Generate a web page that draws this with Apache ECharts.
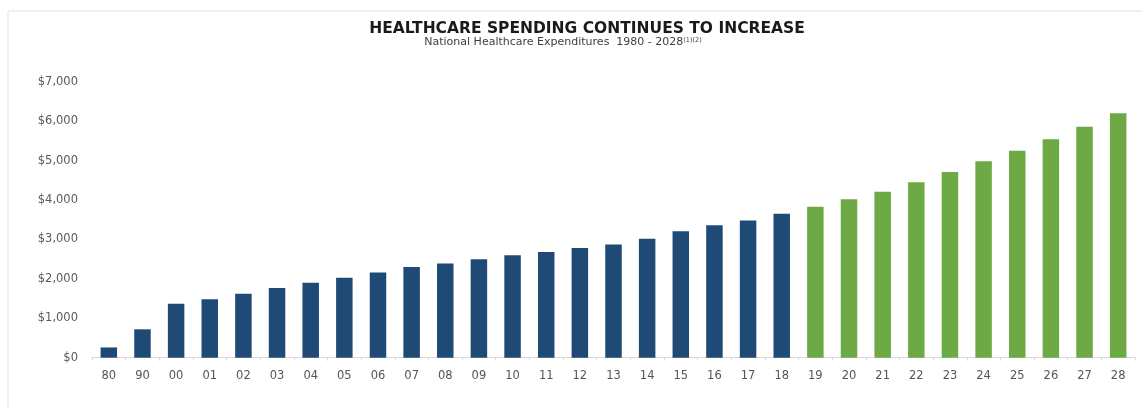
<!DOCTYPE html>
<html>
<head>
<meta charset="utf-8">
<script src="https://cdn.jsdelivr.net/npm/echarts@6/dist/echarts.min.js"></script>
<style>
html,body{margin:0;padding:0;background:#fff;}
#chart{width:1142px;height:408px;}
</style>
</head>
<body>
<div id="chart"></div>
<script>
const categories = ['80','90','00','01','02','03','04','05','06','07','08','09','10','11','12','13','14','15','16','17','18','19','20','21','22','23','24','25','26','27','28'];
const actualValues = [260,720,1370,1480,1620,1770,1900,2030,2160,2300,2390,2500,2600,2680,2780,2870,3020,3210,3360,3480,3650];
const projectedValues = [3830,4020,4210,4450,4710,4980,5250,5540,5860,6200];
const yTicks = [0,1000,2000,3000,4000,5000,6000,7000];

const navy = '#1F4A75';
const green = '#6DAA45';

const barData = actualValues.map(v => ({value: v, itemStyle: {color: navy}}))
  .concat(projectedValues.map(v => ({value: v, itemStyle: {color: green}})));

const chart = echarts.init(document.getElementById('chart'), null, {renderer: 'canvas'});
chart.setOption({
  animation: false,
  backgroundColor: '#fff',
  title: [{
    text: 'HEALTHCARE SPENDING CONTINUES TO INCREASE',
    left: 582,
    textAlign: 'center',
    top: 16,
    textStyle: {fontFamily: 'DejaVu Sans', fontWeight: 'bold', fontSize: 15.5, color: '#1a1a1a'}
  }, {
    text: 'National Healthcare Expenditures  1980 - 2028{sup|(1)(2)}',
    left: 558,
    textAlign: 'center',
    top: 32,
    textStyle: {fontFamily: 'DejaVu Sans', fontWeight: 'normal', fontSize: 11, color: '#404040',
      rich: {sup: {fontSize: 6.5, color: '#404040', verticalAlign: 'top', padding: [0,0,4,0]}}}
  }],
  graphic: [
    {type: 'line', shape: {x1: 8, y1: 11, x2: 1142, y2: 11}, style: {stroke: '#f0f0f0', lineWidth: 2}},
    {type: 'line', shape: {x1: 8, y1: 11, x2: 8, y2: 408}, style: {stroke: '#f0f0f0', lineWidth: 2}}
  ],
  grid: {left: 92, right: 7, top: 81.7, bottom: 50.3, containLabel: false},
  xAxis: {
    type: 'category',
    data: categories,
    axisLine: {lineStyle: {color: '#d9d9d9', width: 1}},
    axisTick: {show: true, length: 3, lineStyle: {color: '#d9d9d9'}},
    axisLabel: {color: '#555555', fontFamily: 'DejaVu Sans', fontSize: 11.5, margin: 12}
  },
  yAxis: {
    type: 'value',
    min: 0, max: 7000, interval: 1000,
    splitLine: {show: false},
    axisLine: {show: false},
    axisTick: {show: false},
    axisLabel: {
      color: '#5a5a5a', fontFamily: 'DejaVu Sans', fontSize: 11.5, margin: 14,
      formatter: v => yTicks.includes(v) ? '$' + v.toLocaleString('en-US') : ''
    }
  },
  series: [{
    type: 'bar',
    data: barData,
    barWidth: '49%'
  }]
});
</script>
</body>
</html>
